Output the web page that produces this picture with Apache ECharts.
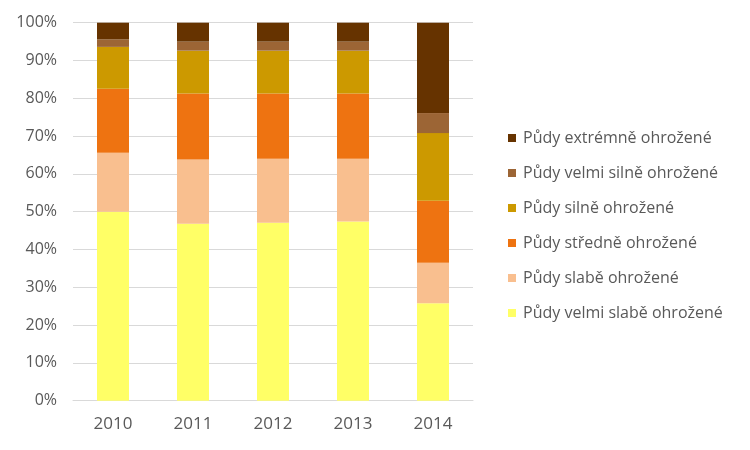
<!DOCTYPE html>
<html><head><meta charset="utf-8">
<script src="https://cdn.jsdelivr.net/npm/echarts@6/dist/echarts.min.js"></script>
<style>html,body{margin:0;padding:0;background:#fff}#c{width:750px;height:450px}</style>
</head><body><div id="c"></div>
<script>
var years = ['2010', '2011', '2012', '2013', '2014'];
var velmiSlabe = [50.0, 46.8, 47.1, 47.4, 25.8];
var slabe      = [15.6, 17.0, 16.9, 16.6, 10.7];
var stredne    = [16.9, 17.5, 17.3, 17.3, 16.4];
var silne      = [11.1, 11.3, 11.3, 11.3, 17.9];
var velmiSilne = [2.0, 2.4, 2.4, 2.4, 5.3];
var extremne   = [4.4, 5.0, 5.0, 5.0, 23.9];
var yTicks = [0, 10, 20, 30, 40, 50, 60, 70, 80, 90, 100];

var names = ['Půdy velmi slabě ohrožené', 'Půdy slabě ohrožené', 'Půdy středně ohrožené',
  'Půdy silně ohrožené', 'Půdy velmi silně ohrožené', 'Půdy extrémně ohrožené'];
var values = [velmiSlabe, slabe, stredne, silne, velmiSilne, extremne];
var colors = ['#FFFF66', '#F9BF8F', '#EE7311', '#CC9900', '#9C6535', '#663300'];
var font = 'Open Sans';

var chart = echarts.init(document.getElementById('c'), null, {renderer: 'canvas'});
chart.setOption({
  animation: false,
  textStyle: {fontFamily: font},
  grid: {left: 73, right: 277, top: 22.7, bottom: 49.3, containLabel: false},
  legend: {
    orient: 'vertical', left: 503, top: 123,
    data: names.slice().reverse(),
    icon: 'rect', itemWidth: 8, itemHeight: 8, itemGap: 15,
    textStyle: {fontFamily: font, fontSize: 16, color: '#595959', lineHeight: 20, padding: [0, 0, 0, 2]}
  },
  xAxis: {
    type: 'category', data: years,
    axisLine: {lineStyle: {color: '#D9D9D9', width: 1}},
    axisTick: {show: false},
    axisLabel: {fontFamily: font, fontSize: 17, color: '#595959', margin: 15}
  },
  yAxis: {
    type: 'value', min: yTicks[0], max: yTicks[yTicks.length - 1], interval: 10,
    axisLine: {show: false}, axisTick: {show: false},
    splitLine: {lineStyle: {color: '#D9D9D9', width: 1}},
    axisLabel: {fontFamily: font, fontSize: 16, color: '#595959', margin: 16, formatter: '{value}%'}
  },
  series: names.map(function (n, i) {
    return {
      name: n, type: 'bar', stack: 'total', data: values[i],
      barWidth: '40%', itemStyle: {color: colors[i]}
    };
  })
});
</script></body></html>
